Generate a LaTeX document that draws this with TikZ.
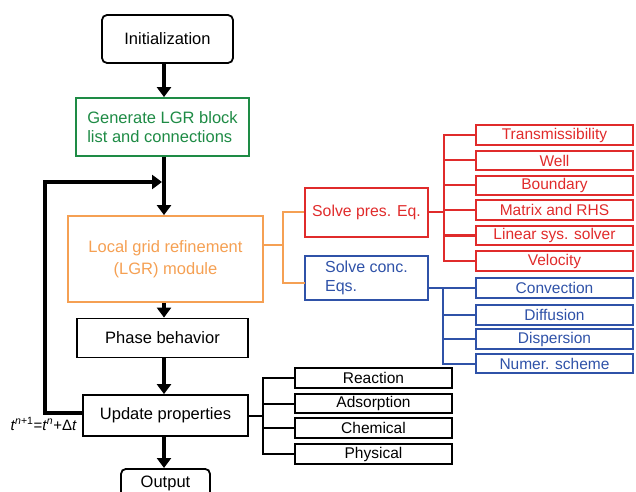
\documentclass[tikz,border=0pt]{standalone}
\usepackage{fontspec}
\setmainfont{Liberation Sans}
\usetikzlibrary{arrows.meta}
\definecolor{cgreen}{HTML}{1E8B45}
\definecolor{corange}{HTML}{F5A053}
\definecolor{cred}{HTML}{E02B2B}
\definecolor{cblue}{HTML}{2F52A8}
\begin{document}
\begin{tikzpicture}[x=1bp,y=-1bp,
  box/.style={draw, line width=1.8bp, inner sep=0pt, align=center, font=\fontsize{16.5bp}{19bp}\selectfont},
  sbox/.style={draw, line width=1.8bp, inner sep=0pt, minimum width=157bp, minimum height=19.5bp, font=\fontsize{15.5bp}{16bp}\selectfont},
  flow/.style={line width=3.2bp, -{Triangle[width=14bp,length=10bp]}},
  tree/.style={line width=2bp}]
\clip (0,0) rectangle (636,492);
\coordinate (ax) at (164,0);
% main column
\node[box, rounded corners=5bp, minimum width=131bp, minimum height=48bp] (init) at (167.5,39) {Initialization};
\node[box, draw=cgreen, text=cgreen, minimum width=173bp, minimum height=58bp, align=left] (gen) at (162.5,127) {Generate LGR block\\list and connections};
\node[box, draw=corange, text=corange, minimum width=195bp, minimum height=86bp, font=\fontsize{16.5bp}{21.5bp}\selectfont] (lgr) at (165.5,259) {Local grid refinement\\(LGR) module};
\node[box, minimum width=171bp, minimum height=39bp] (phase) at (162.5,338) {Phase behavior};
\node[box, minimum width=165bp, minimum height=41bp] (upd) at (165.5,415.5) {Update properties};
\node[box, rounded corners=5bp, minimum width=89bp, minimum height=29bp, anchor=north] (out) at (165.5,468) {Output};
\draw[flow] (init.south -| ax) -- (gen.north -| ax);
\draw[flow] (gen.south -| ax) -- (lgr.north -| ax);
\draw[flow] (lgr.south -| ax) -- (phase.north -| ax);
\draw[flow] (phase.south -| ax) -- (upd.north -| ax);
\draw[flow] (upd.south -| ax) -- (out.north -| ax);
% feedback loop
\coordinate (fb) at (162,182);
\coordinate (fl) at (45,413);
\draw[line width=3.6bp, -{Triangle[width=14bp,length=10bp]}] (upd.west |- fl) -- (fl) |- (fb);
\node[anchor=base east, inner sep=0pt, font=\fontsize{15bp}{18bp}\selectfont] (tl) at (77,430)
  {\textit{t}\textsuperscript{\textit{n}+1}=\textit{t}\textsuperscript{\textit{n}}+Δ\textit{t}};
% solve boxes
\node[box, draw=cred, text=cred, minimum width=123bp, minimum height=49bp, font=\fontsize{15.8bp}{18bp}\selectfont] (pres) at (366.5,212.5) {Solve pres. Eq.};
\node[box, draw=cblue, text=cblue, minimum width=123bp, minimum height=44bp, align=left, font=\fontsize{16bp}{18.5bp}\selectfont] (conc) at (366.5,278) {Solve conc.\\Eqs.};
% orange connector
\coordinate (oj) at (283,245);
\coordinate (cw) at (305,283);
\draw[tree, corange] (lgr.east |- oj) -- (oj);
\draw[tree, corange] (pres.west) -| (oj) |- (cw);
% red children
\foreach \n/\y/\t in {r1/135/Transmissibility, r2/160.5/Well, r3/185.5/Boundary, r4/210/Matrix and RHS, r5/235.5/Linear sys. solver, r6/261/Velocity}{
  \node[sbox, draw=cred, text=cred] (\n) at (554.5,\y) {\t};
}
\coordinate (rj) at (444,212.5);
\draw[tree, cred] (pres.east) -- (rj);
\foreach \n in {r1,r2,r3,r4,r5,r6}{ \draw[tree, cred] (rj) |- (\n.west); }
% blue children
\foreach \n/\y/\t in {b1/288/Convection, b2/315/Diffusion, b3/339/Dispersion, b4/363.5/Numer. scheme}{
  \node[sbox, draw=cblue, text=cblue] (\n) at (554.5,\y) {\t};
}
\coordinate (bj) at (443,288);
\draw[tree, cblue] (conc.east |- bj) -- (bj);
\foreach \n in {b1,b2,b3,b4}{ \draw[tree, cblue] (bj) |- (\n.west); }
% black children
\foreach \n/\y/\t in {k1/378/Reaction, k2/403.5/Adsorption, k3/428/Chemical, k4/454/Physical}{
  \node[sbox] (\n) at (373.5,\y) {\t};
}
\coordinate (kj) at (263,415.5);
\draw[tree] (upd.east) -- (kj);
\foreach \n in {k1,k2,k3,k4}{ \draw[tree] (kj) |- (\n.west); }
\end{tikzpicture}
\end{document}
